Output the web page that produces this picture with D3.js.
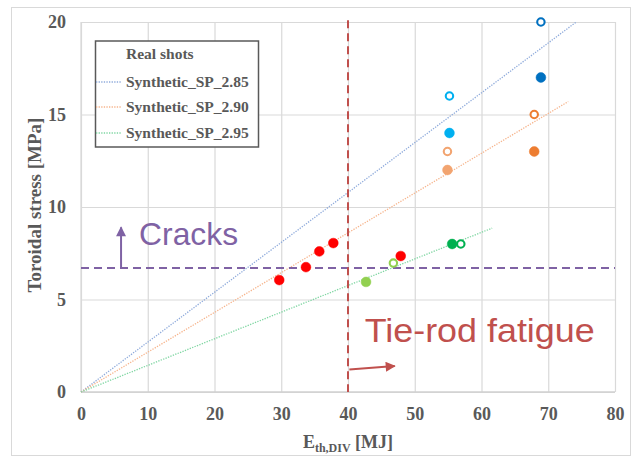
<!DOCTYPE html>
<html>
<head>
<meta charset="utf-8">
<script src="https://cdn.jsdelivr.net/npm/d3@7"></script>
<style>
  html, body { margin: 0; padding: 0; background: #ffffff; }
  svg { display: block; }
</style>
</head>
<body>
<svg id="chart" width="632" height="456"></svg>
<script>
// ---------------- DATA ----------------
const xTicks = [0, 10, 20, 30, 40, 50, 60, 70, 80];
const yTicks = [0, 5, 10, 15, 20];

// Real shots: energy [MJ], toroidal stress [MPa], group id, open marker flag
const shotEnergy = [29.7, 33.7, 35.7, 37.8, 47.9, 42.7, 46.8, 55.6, 56.9, 55.2, 55.2, 54.9, 54.9, 68.9, 68.9, 67.9, 67.9];
const shotStress = [6.05, 6.75, 7.6, 8.05, 7.35, 5.95, 6.97, 8.0, 8.0, 14.0, 16.0, 12.0, 13.0, 17.0, 20.0, 13.0, 15.0];
const shotGroup  = ["A", "A", "A", "A", "A", "B", "B", "C", "C", "D", "D", "E", "E", "F", "F", "G", "G"];
const shotOpen   = [false, false, false, false, false, false, true, false, true, false, true, false, true, false, true, false, true];

// Synthetic lines (start and end points)
const synthNames = ["Synthetic_SP_2.85", "Synthetic_SP_2.90", "Synthetic_SP_2.95"];
const synthEndE = [74.2, 73.0, 61.6];
const synthEndS = [20.0, 15.7, 8.86];

// Thresholds
const cracksStress = 6.7;
const tieRodEnergy = 40;

// ---------------- STYLES ----------------
const groupColor = { A: "#ff0000", B: "#92d050", C: "#00b050", D: "#00b0f0", E: "#f2a470", F: "#0070c0", G: "#ed7d31" };
const synthColor = ["#8eaadb", "#f6b48c", "#7fd6a2"];
const purple = "#7f62a4";
const darkRed = "#c0504d";
const serif = "'Liberation Serif', 'Times New Roman', serif";
const sans = "'Liberation Sans', Arial, sans-serif";

// ---------------- LAYOUT ----------------
const svg = d3.select("#chart");
const x = d3.scaleLinear().domain([0, 80]).range([81, 615]);
const y = d3.scaleLinear().domain([0, 20]).range([392, 22]);

// outer chart border
svg.append("rect").attr("x", 11.5).attr("y", 7.5).attr("width", 619).attr("height", 448)
  .attr("fill", "#fff").attr("stroke", "#d9d9d9").attr("stroke-width", 1);

// gridlines + axes
const xAxis = d3.axisBottom(x).tickValues(xTicks).tickSize(-(392 - 22)).tickPadding(15).tickFormat(d3.format("d"));
const yAxis = d3.axisLeft(y).tickValues(yTicks).tickSize(-(615 - 81)).tickPadding(15).tickFormat(d3.format("d"));

const gx = svg.append("g").attr("transform", "translate(0,392)").call(xAxis);
const gy = svg.append("g").attr("transform", "translate(81,0)").call(yAxis);
[gx, gy].forEach(g => {
  g.select(".domain").remove();
  g.selectAll(".tick line").attr("stroke", "#d9d9d9").attr("stroke-width", 1.2);
  g.selectAll(".tick text").attr("fill", "#595959").attr("font-family", serif)
    .attr("font-weight", "bold").attr("font-size", 18);
});
// axis baselines
svg.append("line").attr("x1", x(0)).attr("x2", x(80)).attr("y1", y(0)).attr("y2", y(0))
  .attr("stroke", "#d0d0d0").attr("stroke-width", 1.5);
svg.append("line").attr("x1", x(0)).attr("x2", x(0)).attr("y1", y(0)).attr("y2", y(20))
  .attr("stroke", "#d9d9d9").attr("stroke-width", 1.2);

// axis titles
const xt = svg.append("text").attr("x", 348).attr("y", 448).attr("text-anchor", "middle")
  .attr("font-family", serif).attr("font-weight", "bold").attr("font-size", 18).attr("fill", "#595959");
xt.append("tspan").text("E");
xt.append("tspan").attr("font-size", 12).attr("dy", 4).text("th,DIV");
xt.append("tspan").attr("dy", -4).text(" [MJ]");

svg.append("text").attr("transform", "translate(41,205) rotate(-90)").attr("text-anchor", "middle")
  .attr("font-family", serif).attr("font-weight", "bold").attr("font-size", 19).attr("fill", "#595959")
  .text("Toroidal stress [MPa]");

// synthetic lines
const line = d3.line().x(d => x(d[0])).y(d => y(d[1]));
synthNames.forEach((n, i) => {
  svg.append("path").datum([[0, 0], [synthEndE[i], synthEndS[i]]])
    .attr("d", line).attr("fill", "none").attr("stroke", synthColor[i])
    .attr("stroke-width", 1.3).attr("stroke-dasharray", "1.3,1.3");
});

// cracks dashed line
svg.append("line").attr("x1", x(0)).attr("x2", x(80)).attr("y1", y(cracksStress)).attr("y2", y(cracksStress))
  .attr("stroke", purple).attr("stroke-width", 2).attr("stroke-dasharray", "8,5");
// tie-rod dashed line
svg.append("line").attr("x1", x(tieRodEnergy)).attr("x2", x(tieRodEnergy)).attr("y1", y(20.1)).attr("y2", y(0))
  .attr("stroke", darkRed).attr("stroke-width", 2).attr("stroke-dasharray", "8,5");

// arrows
const defs = svg.append("defs");
function marker(id, color) {
  defs.append("marker").attr("id", id).attr("viewBox", "0 0 10 10").attr("refX", 9).attr("refY", 5)
    .attr("markerWidth", 5.5).attr("markerHeight", 5).attr("markerUnits", "strokeWidth").attr("orient", "auto")
    .append("path").attr("d", "M0,0 L10,5 L0,10 z").attr("fill", color);
}
marker("arrP", purple);
marker("arrR", darkRed);
svg.append("line").attr("x1", x(6)).attr("x2", x(6)).attr("y1", y(cracksStress)).attr("y2", y(8.9))
  .attr("stroke", purple).attr("stroke-width", 2).attr("marker-end", "url(#arrP)");
svg.append("line").attr("x1", x(40.2)).attr("x2", x(47.0)).attr("y1", y(1.22)).attr("y2", y(1.4))
  .attr("stroke", darkRed).attr("stroke-width", 2).attr("marker-end", "url(#arrR)");

// annotation texts
svg.append("text").attr("x", x(8.7)).attr("y", y(7.95)).attr("font-family", sans).attr("font-size", 32)
  .attr("fill", purple).attr("textLength", 99).attr("lengthAdjust", "spacingAndGlyphs").text("Cracks");
svg.append("text").attr("x", x(42.5)).attr("y", y(2.7)).attr("font-family", sans).attr("font-size", 34)
  .attr("fill", darkRed).attr("textLength", 230).attr("lengthAdjust", "spacingAndGlyphs").text("Tie-rod fatigue");

// real shots
const shots = shotEnergy.map((e, i) => ({ e, s: shotStress[i], g: shotGroup[i], open: shotOpen[i] }));
svg.append("g").selectAll("circle").data(shots).join("circle")
  .attr("cx", d => x(d.e)).attr("cy", d => y(d.s))
  .attr("r", d => d.open ? 3.7 : 4.9)
  .attr("fill", d => d.open ? "#fff" : groupColor[d.g])
  .attr("stroke", d => groupColor[d.g])
  .attr("stroke-width", d => d.open ? 2.1 : 0.5);

// legend
const lg = svg.append("g");
lg.append("rect").attr("x", 95.5).attr("y", 41).attr("width", 163).attr("height", 106)
  .attr("fill", "#fff").attr("stroke", "#595959").attr("stroke-width", 1.5);
const legendLabels = ["Real shots"].concat(synthNames);
const legendY = [59, 87, 112, 138];
legendLabels.forEach((t, i) => {
  if (i > 0) {
    lg.append("line").attr("x1", 96).attr("x2", 122).attr("y1", legendY[i] - 5).attr("y2", legendY[i] - 5)
      .attr("stroke", synthColor[i - 1]).attr("stroke-width", 1.3).attr("stroke-dasharray", "1.3,1.3");
  }
  lg.append("text").attr("x", 126).attr("y", legendY[i]).attr("font-family", serif).attr("font-weight", "bold")
    .attr("font-size", 15.5).attr("fill", "#595959").text(t);
});
</script>
</body>
</html>
